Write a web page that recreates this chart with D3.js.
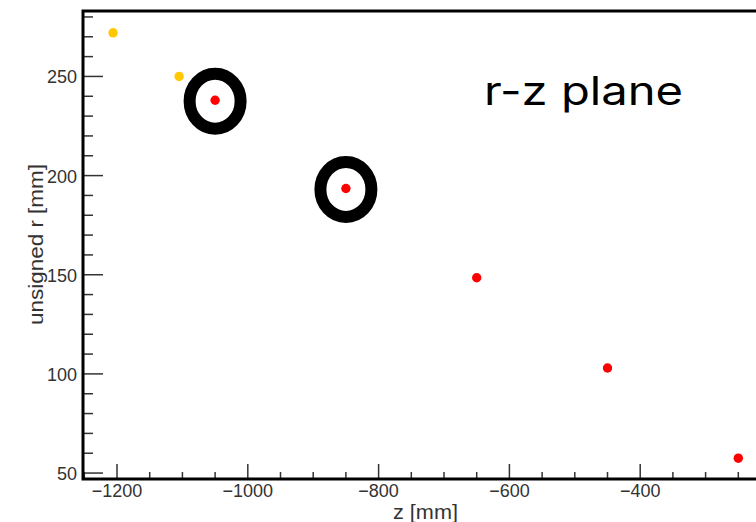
<!DOCTYPE html>
<html><head><meta charset="utf-8">
<script src="https://cdn.jsdelivr.net/npm/d3@7"></script>
<style>body{margin:0;background:#fff;overflow:hidden}</style>
</head><body>
<svg id="c" width="756" height="522"></svg>
<script>
const yellowZ = [-1206, -1105];
const yellowR = [272, 250];
const redZ = [-1050, -850, -650, -450, -250];
const redR = [238, 193.5, 148.5, 103, 57.5];
const circledIdx = [0, 1];
const xTicks = [-1200, -1000, -800, -600, -400];
const yTicks = [50, 100, 150, 200, 250];
const title = "r-z plane";

const svg = d3.select("#c");
const x = d3.scaleLinear().domain([-1252, -200]).range([83, 771]);
const y = d3.scaleLinear().domain([47, 283]).range([479, 11]);
const fmt = d3.format("");
const FONT = "Liberation Sans, Arial, sans-serif";

const xMinor = d3.range(-1250, -199, 50).filter(v => !xTicks.includes(v) && v !== -200);
const yMinor = d3.range(50, 281, 10).filter(v => !yTicks.includes(v));

const g = svg.append("g");
g.selectAll(".xm").data(xMinor).join("line")
  .attr("x1", d => x(d)).attr("x2", d => x(d)).attr("y1", 479).attr("y2", 472)
  .attr("stroke", "#333").attr("stroke-width", 1.5);
g.selectAll(".xM").data(xTicks).join("line")
  .attr("x1", d => x(d)).attr("x2", d => x(d)).attr("y1", 479).attr("y2", 464)
  .attr("stroke", "#333").attr("stroke-width", 1.5);
g.selectAll(".ym").data(yMinor).join("line")
  .attr("x1", 83).attr("x2", 93).attr("y1", d => y(d)).attr("y2", d => y(d))
  .attr("stroke", "#333").attr("stroke-width", 1.5);
g.selectAll(".yM").data(yTicks).join("line")
  .attr("x1", 83).attr("x2", 103).attr("y1", d => y(d)).attr("y2", d => y(d))
  .attr("stroke", "#333").attr("stroke-width", 1.5);

svg.append("rect").attr("x", x(-1252)).attr("y", y(283))
  .attr("width", x(-200) - x(-1252)).attr("height", y(47) - y(283))
  .attr("fill", "none").attr("stroke", "#000").attr("stroke-width", 3);

svg.selectAll(".xl").data(xTicks).join("text")
  .attr("x", d => x(d)).attr("y", 497).attr("text-anchor", "middle")
  .attr("font-family", FONT).attr("font-size", 18)
  .attr("fill", "#333").text(d => fmt(d));
svg.selectAll(".yl").data(yTicks).join("text")
  .attr("x", 77).attr("y", d => y(d) + 7).attr("text-anchor", "end")
  .attr("font-family", FONT).attr("font-size", 18)
  .attr("fill", "#333").text(d => fmt(d));

svg.append("text").attr("x", 393).attr("y", 519)
  .attr("font-family", FONT).attr("font-size", 20)
  .attr("textLength", 65).attr("lengthAdjust", "spacingAndGlyphs")
  .attr("fill", "#333").text("z [mm]");
svg.append("text").attr("transform", "translate(43,325) rotate(-90)")
  .attr("font-family", FONT).attr("font-size", 20)
  .attr("textLength", 161).attr("lengthAdjust", "spacingAndGlyphs")
  .attr("fill", "#333").text("unsigned r [mm]");

svg.selectAll(".yp").data(yellowZ).join("circle")
  .attr("cx", d => x(d)).attr("cy", (d, i) => y(yellowR[i])).attr("r", 4.7)
  .attr("fill", "#ffc800");
svg.selectAll(".rp").data(redZ).join("circle")
  .attr("cx", d => x(d)).attr("cy", (d, i) => y(redR[i])).attr("r", 4.7)
  .attr("fill", "#ff0000");

svg.selectAll(".ring").data(circledIdx).join("ellipse")
  .attr("cx", i => x(redZ[i])).attr("cy", i => y(redR[i]) + 1)
  .attr("rx", 25.5).attr("ry", 27.5)
  .attr("fill", "none").attr("stroke", "#000").attr("stroke-width", 12);

svg.append("text").attr("x", 484).attr("y", 105)
  .attr("font-family", "Inter, sans-serif").attr("font-size", 39)
  .attr("textLength", 199).attr("lengthAdjust", "spacingAndGlyphs")
  .attr("fill", "#000").text(title);
</script>
</body></html>
